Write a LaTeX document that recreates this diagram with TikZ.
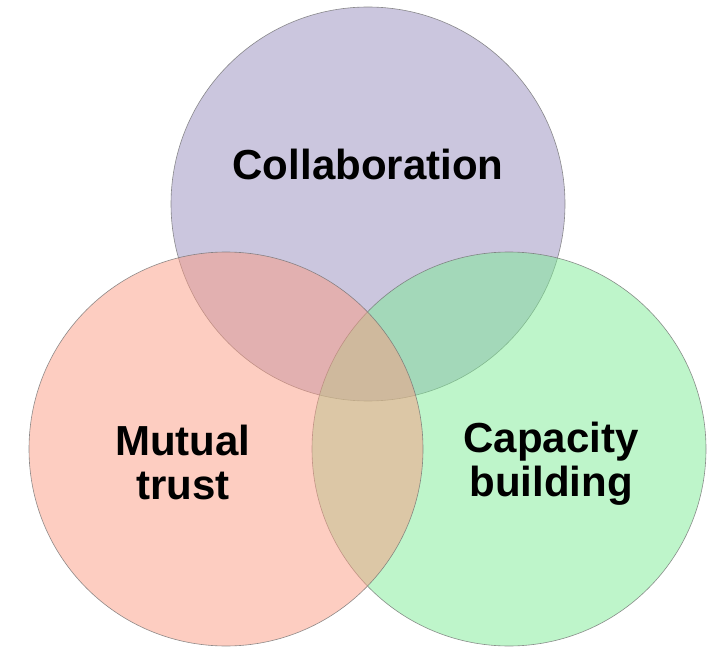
\documentclass[tikz,border=0pt]{standalone}
\usepackage{fontspec}
\setmainfont{Liberation Sans}
\usetikzlibrary{positioning}

\definecolor{collabfill}{RGB}{151,141,189}
\definecolor{trustfill}{RGB}{251,155,131}
\definecolor{capfill}{RGB}{125,235,149}

\begin{document}
\begin{tikzpicture}[x=1pt,y=1pt,
    ring/.style={draw=black!55,line width=0.6pt,fill opacity=0.5,draw opacity=0.8},
    label/.style={font=\fontsize{42}{44}\selectfont\bfseries,align=center,text=black}]
  \useasboundingbox (0,0) rectangle (714,646);

  % the three circles (top, right, left)
  \draw[ring,fill=collabfill] (368,442) circle (197);
  \draw[ring,fill=capfill] (509,197) circle (197);
  \draw[ring,fill=trustfill] (226,197) circle (197);

  \node[label] (collab) at (368,482) {Collaboration};
  \node[label] (trust) at (183,184) {Mutual\\trust};
  \node[label] (cap) at (551,182) {Capacity\\building};
\end{tikzpicture}
\end{document}
